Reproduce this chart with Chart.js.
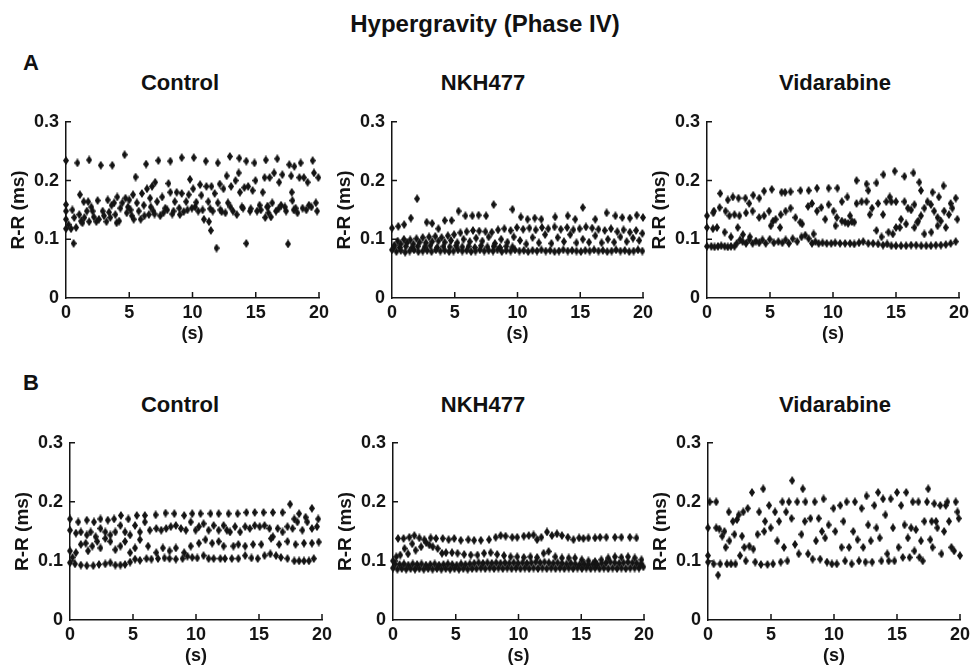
<!DOCTYPE html>
<html>
<head>
<meta charset="utf-8">
<script src="https://cdn.jsdelivr.net/npm/chart.js@4.4.1/dist/chart.umd.min.js"></script>
<style>
  html, body { margin:0; padding:0; background:#fff; }
  body { width:971px; height:669px; position:relative; overflow:hidden; font-family:"Liberation Sans", Arial, sans-serif; }
  .lbl { position:absolute; font-weight:bold; color:#111; white-space:nowrap; transform:translate(-50%,-50%); line-height:1; }
  canvas { position:absolute; }
</style>
</head>
<body>
<script>
// ---------- DATA (time in s, R-R interval) ----------
const xTickLabels = ['0','5','10','15','20'];
const yTickLabels = ['0','0.1','0.2','0.3'];
const panelTitles = ['Control','NKH477','Vidarabine'];

const controlA = [
[0,0.234],[0,0.159],[0,0.148],[0,0.134],[0,0.118],[0.2,0.125],
[0.4,0.118],[0.5,0.15],[0.6,0.093],[0.65,0.137],[0.8,0.12],
[0.9,0.23],[1.05,0.142],[1.1,0.176],[1.2,0.131],[1.3,0.128],[1.4,0.164],[1.45,0.137],[1.65,0.148],[1.75,0.164],[1.83,0.235],[1.83,0.13],
[2.0,0.155],[2.1,0.148],[2.2,0.138],[2.4,0.13],[2.5,0.166],[2.6,0.134],[2.75,0.226],[2.9,0.148],[3.0,0.14],[3.2,0.13],[3.3,0.167],[3.4,0.146],[3.5,0.137],
[3.6,0.158],[3.66,0.226],[3.8,0.162],[3.9,0.142],[4.0,0.128],[4.05,0.172],[4.2,0.131],[4.3,0.153],[4.45,0.162],[4.63,0.244],[4.7,0.17],[4.8,0.145],
[4.9,0.155],[5.0,0.167],[5.1,0.15],[5.2,0.14],[5.3,0.176],[5.35,0.134],[5.5,0.206],[5.6,0.162],[5.75,0.148],[5.9,0.134],[6.0,0.178],[6.15,0.158],
[6.2,0.14],[6.33,0.228],[6.4,0.186],[6.55,0.142],[6.65,0.17],[6.7,0.155],[6.8,0.19],[6.9,0.148],[7.0,0.143],[7.05,0.197],[7.2,0.164],[7.3,0.234],[7.45,0.14],
[7.6,0.172],[7.7,0.145],[7.85,0.153],[8.0,0.15],[8.1,0.195],[8.25,0.233],[8.25,0.18],[8.4,0.143],[8.5,0.148],[8.6,0.164],[8.75,0.18],[8.95,0.153],[9.0,0.142],[9.15,0.239],
[9.15,0.178],[9.3,0.147],[9.5,0.164],[9.6,0.15],[9.7,0.176],[9.8,0.202],[9.95,0.153],[10.05,0.186],[10.1,0.239],[10.2,0.155],[10.3,0.163],[10.45,0.148],
[10.6,0.193],[10.7,0.175],[10.8,0.15],[10.9,0.134],[11.05,0.233],[11.1,0.19],[11.25,0.164],[11.3,0.13],[11.4,0.152],[11.45,0.115],[11.5,0.19],[11.6,0.148],
[11.75,0.178],[11.9,0.085],[12.0,0.23],[12.0,0.162],[12.15,0.194],[12.2,0.15],[12.3,0.147],[12.45,0.186],[12.6,0.145],[12.7,0.208],[12.8,0.162],[12.95,0.241],
[13.0,0.155],[13.05,0.19],[13.2,0.148],[13.4,0.2],[13.5,0.142],[13.65,0.213],[13.7,0.238],[13.75,0.18],[13.9,0.155],[14.0,0.153],[14.1,0.188],[14.25,0.233],
[14.25,0.093],[14.4,0.19],[14.55,0.148],[14.6,0.152],[14.75,0.183],[14.9,0.23],[14.98,0.2],[15.1,0.148],[15.3,0.158],[15.4,0.15],[15.55,0.18],[15.7,0.205],
[15.75,0.137],[15.8,0.235],[15.9,0.155],[15.95,0.156],[16.0,0.145],[16.1,0.205],[16.2,0.138],[16.3,0.162],[16.45,0.213],[16.6,0.148],[16.7,0.237],[16.8,0.152],[16.85,0.197],[17.0,0.158],
[17.1,0.21],[17.3,0.155],[17.4,0.148],[17.55,0.092],[17.65,0.227],[17.8,0.208],[17.85,0.18],[17.9,0.166],[18.0,0.15],[18.05,0.224],[18.15,0.153],[18.3,0.145],[18.45,0.205],
[18.55,0.23],[18.7,0.153],[18.8,0.205],[19.0,0.15],[19.1,0.197],[19.2,0.158],[19.4,0.155],[19.5,0.234],[19.6,0.213],[19.75,0.162],[19.85,0.148],[19.95,0.205]
];

const nkhA = [
[0,0.119],[0.5,0.122],[0.97,0.125],[1.5,0.136],[2.0,0.169],[2.76,0.129],[3.2,0.127],[3.7,0.118],[4.2,0.132],[4.75,0.132],[5.3,0.148],[5.85,0.14],[6.4,0.14],[6.9,0.141],[7.5,0.14],[8.1,0.159],[9.6,0.151],[10.26,0.138],[10.8,0.134],[11.37,0.136],[11.9,0.134],[13.0,0.138],[14.0,0.14],[14.6,0.134],[15.2,0.154],[16.2,0.134],[17.1,0.145],[17.8,0.14],[18.35,0.137],[18.95,0.136],[19.5,0.141],[20,0.137],
[0.2,0.09],[0.45,0.097],[0.7,0.092],[0.95,0.1],[1.2,0.094],[1.45,0.099],[1.7,0.092],[1.95,0.101],[2.2,0.095],[2.45,0.103],[2.7,0.094],[2.95,0.104],[3.2,0.096],[3.45,0.105],[3.7,0.097],[3.95,0.103],[4.2,0.095],[4.45,0.106],[4.7,0.098],[4.95,0.108],[5.2,0.094],[5.45,0.111],[5.7,0.1],[5.95,0.113],[6.2,0.096],[6.45,0.115],[6.7,0.102],[6.95,0.114],[7.2,0.097],[7.45,0.113],[7.7,0.104],[7.95,0.112],[8.2,0.093],[8.45,0.116],[8.7,0.1],[8.95,0.118],[9.2,0.095],[9.45,0.115],[9.7,0.104],[9.95,0.12],[10.2,0.098],[10.45,0.117],[10.7,0.092],[10.95,0.119],[11.2,0.103],[11.45,0.116],[11.7,0.094],[11.95,0.12],[12.2,0.108],[12.45,0.118],[12.7,0.093],[12.95,0.121],[13.2,0.103],[13.45,0.117],[13.7,0.096],[13.95,0.12],[14.2,0.108],[14.45,0.116],[14.7,0.094],[14.95,0.118],[15.2,0.1],[15.45,0.121],[15.7,0.095],[15.95,0.119],[16.2,0.106],[16.45,0.117],[16.7,0.094],[16.95,0.115],[17.2,0.1],[17.45,0.118],[17.7,0.095],[17.95,0.113],[18.2,0.104],[18.45,0.116],[18.7,0.096],[18.95,0.112],[19.2,0.102],[19.45,0.115],[19.7,0.098],[19.95,0.11],
[0.15,0.087],[0.6,0.086],[1.1,0.088],[1.6,0.086],[2.05,0.088],[2.6,0.087],[3.05,0.089],[3.6,0.086],[4.1,0.088],[4.6,0.087],[5.1,0.089],[5.6,0.087],[6.1,0.088],[6.6,0.086],[7.1,0.089],[7.6,0.087],[8.1,0.088],[8.6,0.086],[9.1,0.088],[9.6,0.087],
[0,0.082],[0.35,0.079],[0.7,0.081],[1.05,0.078],[1.4,0.08],[1.75,0.082],[2.1,0.079],[2.45,0.08],[2.8,0.081],[3.15,0.079],[3.5,0.082],[3.85,0.08],[4.2,0.081],[4.55,0.079],[4.9,0.08],[5.25,0.082],[5.6,0.08],[5.95,0.081],[6.3,0.079],[6.65,0.08],[7.0,0.082],[7.35,0.08],[7.7,0.081],[8.05,0.08],[8.4,0.082],[8.75,0.079],[9.1,0.081],[9.45,0.08],[9.8,0.082],[10.15,0.08],[10.5,0.081],[10.85,0.079],[11.2,0.081],[11.55,0.08],[11.9,0.082],[12.25,0.08],[12.6,0.081],[12.95,0.079],[13.3,0.08],[13.65,0.082],[14.0,0.08],[14.35,0.081],[14.7,0.08],[15.05,0.079],[15.4,0.081],[15.75,0.08],[16.1,0.082],[16.45,0.08],[16.8,0.081],[17.15,0.079],[17.5,0.08],[17.85,0.082],[18.2,0.08],[18.55,0.081],[18.9,0.079],[19.25,0.08],[19.6,0.082],[19.95,0.08]
];

const vidA = [
[0.55,0.148],[1.05,0.178],[1.65,0.167],[2.05,0.172],[2.5,0.17],[3.05,0.17],[3.35,0.161],[3.67,0.175],[4.15,0.17],[4.53,0.182],[5.14,0.185],[5.92,0.18],[6.2,0.18],[6.63,0.181],[7.42,0.183],[8.07,0.183],[8.73,0.187],[9.65,0.187],[10.35,0.187],[11.14,0.172],[11.87,0.2],[12.66,0.194],[12.8,0.183],[13.45,0.196],[14.0,0.21],[14.9,0.216],[15.67,0.207],[16.38,0.213],[16.85,0.197],[16.98,0.183],[17.9,0.18],[18.4,0.172],[18.77,0.191],[19.34,0.161],[19.74,0.17],
[0,0.14],[0.5,0.145],[1.0,0.154],[1.47,0.148],[1.78,0.14],[2.18,0.142],[2.57,0.14],[3.1,0.145],[3.62,0.148],[4.14,0.137],[4.53,0.14],[4.93,0.148],[5.24,0.131],[5.45,0.134],[5.85,0.142],[6.24,0.148],[6.63,0.153],[7.02,0.137],[7.55,0.126],[8.02,0.156],[8.33,0.161],[8.73,0.148],[9.07,0.154],[9.38,0.134],[9.65,0.159],[10.04,0.148],[10.3,0.137],[10.7,0.164],[10.96,0.129],[11.35,0.14],[11.69,0.129],[11.87,0.161],[12.27,0.164],[12.66,0.164],[12.92,0.142],[13.1,0.153],[13.58,0.161],[13.97,0.142],[14.23,0.164],[14.5,0.172],[14.63,0.164],[15.0,0.164],[15.0,0.12],[15.4,0.134],[15.67,0.164],[15.94,0.153],[16.2,0.15],[16.46,0.159],[16.77,0.131],[16.98,0.14],[17.25,0.153],[17.5,0.164],[17.77,0.159],[18.03,0.148],[18.3,0.137],[18.56,0.131],[18.82,0.148],[19.2,0.142],[19.47,0.153],[19.87,0.134],
[0,0.12],[0.47,0.118],[0.79,0.12],[1.4,0.112],[1.9,0.104],[2.44,0.12],[2.85,0.108],[3.4,0.104],[5.06,0.123],[5.8,0.12],[7.4,0.129],[8.46,0.109],[10.2,0.123],[10.7,0.131],[11.2,0.127],[11.5,0.13],[13.45,0.115],[13.85,0.104],[14.4,0.112],[14.75,0.109],[15.3,0.12],[15.8,0.126],[16.46,0.12],[16.7,0.129],[17.25,0.109],[17.8,0.112],[18.3,0.123],[18.95,0.12],
[0,0.088],[0.34,0.088],[0.6,0.087],[0.87,0.088],[1.13,0.089],[1.4,0.088],[1.65,0.087],[1.9,0.088],[2.18,0.088],[2.36,0.093],[2.62,0.099],[2.83,0.096],[3.1,0.093],[3.35,0.099],[3.62,0.093],[3.88,0.097],[4.14,0.094],[4.4,0.099],[4.66,0.093],[4.98,0.1],[5.3,0.094],[5.66,0.096],[5.98,0.094],[6.24,0.099],[6.5,0.093],[6.8,0.101],[7.16,0.096],[7.5,0.104],[7.8,0.107],[8.07,0.101],[8.33,0.093],[8.6,0.096],[8.86,0.093],[9.17,0.094],[9.5,0.093],[9.86,0.093],[10.17,0.094],[10.56,0.093],[10.96,0.093],[11.35,0.093],[11.69,0.092],[12.06,0.094],[12.4,0.096],[12.8,0.093],[13.18,0.093],[13.58,0.092],[13.97,0.09],[14.3,0.092],[14.63,0.089],[15.0,0.089],[15.4,0.089],[15.8,0.089],[16.2,0.09],[16.6,0.09],[17.0,0.089],[17.4,0.089],[17.77,0.089],[18.16,0.09],[18.56,0.09],[18.95,0.091],[19.34,0.093],[19.74,0.096]
];

const controlB = [
[0,0.171],[0.65,0.166],[1.33,0.169],[1.9,0.166],[2.42,0.171],[3.0,0.169],[3.5,0.171],[4.04,0.177],[4.63,0.171],[5.3,0.177],[5.94,0.177],[6.8,0.178],[7.58,0.181],[8.28,0.18],[9.06,0.177],[9.7,0.18],[10.36,0.18],[11.15,0.18],[11.8,0.18],[12.58,0.18],[13.3,0.18],[14.0,0.182],[14.66,0.182],[15.36,0.182],[16.1,0.182],[16.87,0.182],[17.47,0.196],[17.8,0.171],[18.18,0.18],[18.7,0.174],[19.2,0.189],[19.7,0.171],
[0,0.152],[0.47,0.147],[0.86,0.149],[1.33,0.144],[1.64,0.149],[2.03,0.141],[2.42,0.155],[2.8,0.149],[3.2,0.144],[3.6,0.149],[4.0,0.16],[4.37,0.149],[4.77,0.144],[5.16,0.16],[5.55,0.149],[5.94,0.166],[6.33,0.152],[6.85,0.155],[7.24,0.152],[7.63,0.155],[8.0,0.158],[8.4,0.16],[8.8,0.155],[9.2,0.152],[9.58,0.166],[9.97,0.152],[10.23,0.158],[10.6,0.163],[11.0,0.152],[11.4,0.16],[11.8,0.152],[12.19,0.16],[12.45,0.152],[12.7,0.149],[13.1,0.158],[13.5,0.149],[13.9,0.158],[14.27,0.155],[14.66,0.16],[15.05,0.158],[15.44,0.16],[15.83,0.155],[16.1,0.141],[16.48,0.155],[16.87,0.149],[17.26,0.158],[17.66,0.155],[18.05,0.166],[18.44,0.152],[18.83,0.166],[19.2,0.155],[19.6,0.158],
[0,0.117],[0.2,0.106],[0.47,0.114],[0.86,0.128],[1.25,0.13],[1.43,0.117],[1.77,0.125],[2.16,0.133],[2.42,0.122],[2.8,0.138],[3.2,0.133],[3.6,0.119],[4.0,0.125],[4.37,0.133],[4.77,0.114],[5.16,0.122],[5.55,0.136],[6.2,0.125],[6.85,0.114],[7.37,0.122],[7.9,0.117],[8.4,0.122],[9.06,0.114],[9.58,0.125],[10.23,0.13],[10.75,0.136],[11.28,0.13],[11.8,0.133],[12.19,0.125],[12.97,0.125],[13.36,0.128],[13.9,0.125],[14.53,0.128],[15.18,0.128],[15.96,0.138],[16.6,0.128],[17.26,0.133],[17.9,0.128],[18.57,0.13],[19.2,0.13],[19.74,0.132],
[0,0.097],[0.4,0.095],[0.86,0.093],[1.33,0.092],[1.85,0.092],[2.3,0.094],[2.8,0.095],[3.2,0.097],[3.6,0.093],[4.0,0.093],[4.37,0.094],[4.77,0.098],[5.16,0.103],[5.55,0.101],[6.07,0.104],[6.46,0.103],[6.98,0.104],[7.5,0.105],[7.9,0.104],[8.4,0.103],[8.93,0.104],[9.32,0.108],[9.7,0.106],[10.1,0.105],[10.6,0.109],[11.0,0.104],[11.4,0.104],[11.93,0.104],[12.3,0.104],[12.84,0.104],[13.36,0.104],[13.9,0.109],[14.4,0.105],[14.9,0.104],[15.44,0.109],[15.9,0.112],[16.35,0.109],[16.74,0.106],[17.26,0.104],[17.8,0.1],[18.18,0.1],[18.57,0.1],[18.96,0.1],[19.35,0.104]
];

const nkhB = [
[0.4,0.138],[0.84,0.138],[1.3,0.14],[1.7,0.143],[2.1,0.139],[2.5,0.136],[3.0,0.139],[3.43,0.138],[3.96,0.138],[4.43,0.136],[4.88,0.138],[5.4,0.135],[6.0,0.136],[6.46,0.135],[7.0,0.135],[7.65,0.136],[8.18,0.14],[8.58,0.143],[8.97,0.142],[9.5,0.14],[9.9,0.14],[10.42,0.142],[10.82,0.143],[11.2,0.144],[11.48,0.136],[11.82,0.14],[12.27,0.149],[12.66,0.143],[13.06,0.146],[13.46,0.143],[13.93,0.14],[14.38,0.136],[14.83,0.139],[15.17,0.138],[15.57,0.139],[16.1,0.139],[16.5,0.14],[17.0,0.14],[17.68,0.14],[18.2,0.14],[18.87,0.14],[19.4,0.139],
[0,0.1],[0.26,0.107],[0.58,0.11],[0.92,0.121],[1.2,0.112],[1.53,0.129],[1.8,0.118],[2.24,0.124],[2.64,0.131],[2.9,0.127],[3.17,0.124],[3.56,0.121],[3.9,0.113],[4.22,0.114],[4.7,0.114],[5.14,0.113],[5.67,0.111],[6.2,0.11],[6.73,0.11],[7.26,0.113],[7.78,0.114],[8.3,0.111],[8.84,0.109],[9.37,0.107],[9.9,0.107],[10.42,0.106],[10.95,0.107],[11.48,0.106],[12.0,0.113],[12.4,0.116],[12.93,0.107],[13.46,0.105],[14.0,0.105],[14.5,0.105],[15.04,0.102],[15.57,0.1],[16.1,0.099],[16.6,0.102],[17.15,0.105],[17.68,0.107],[18.2,0.106],[18.73,0.107],[19.26,0.105],[19.8,0.102],
[0,0.088],[0.17,0.095],[0.35,0.086],[0.52,0.094],[0.7,0.087],[0.87,0.095],[1.05,0.086],[1.22,0.093],[1.4,0.087],[1.57,0.095],[1.75,0.086],[1.92,0.094],[2.1,0.087],[2.27,0.095],[2.45,0.086],[2.62,0.093],[2.8,0.087],[2.97,0.094],[3.15,0.086],[3.32,0.095],[3.5,0.087],[3.67,0.093],[3.85,0.086],[4.02,0.094],[4.2,0.087],[4.37,0.095],[4.55,0.086],[4.72,0.094],[4.9,0.087],[5.07,0.093],[5.25,0.086],[5.42,0.095],[5.6,0.087],[5.77,0.094],[5.95,0.086],[6.12,0.095],[6.3,0.087],[6.47,0.096],[6.65,0.087],[6.82,0.097],[7.0,0.088],[7.17,0.096],[7.35,0.087],[7.52,0.097],[7.7,0.088],[7.87,0.096],[8.05,0.087],[8.22,0.097],[8.4,0.088],[8.57,0.096],[8.75,0.087],[8.92,0.097],[9.1,0.088],[9.27,0.096],[9.45,0.087],[9.62,0.097],[9.8,0.088],[9.97,0.096],[10.15,0.087],[10.32,0.097],[10.5,0.088],[10.67,0.096],[10.85,0.087],[11.02,0.097],[11.2,0.088],[11.37,0.098],[11.55,0.087],[11.72,0.097],[11.9,0.088],[12.07,0.098],[12.25,0.087],[12.42,0.097],[12.6,0.088],[12.77,0.096],[12.95,0.087],[13.12,0.097],[13.3,0.088],[13.47,0.096],[13.65,0.087],[13.82,0.095],[14.0,0.088],[14.17,0.096],[14.35,0.087],[14.52,0.095],[14.7,0.088],[14.87,0.094],[15.05,0.087],[15.22,0.095],[15.4,0.088],[15.57,0.094],[15.75,0.087],[15.92,0.095],[16.1,0.088],[16.27,0.094],[16.45,0.087],[16.62,0.096],[16.8,0.088],[16.97,0.097],[17.15,0.087],[17.32,0.098],[17.5,0.088],[17.67,0.097],[17.85,0.087],[18.02,0.096],[18.2,0.088],[18.37,0.097],[18.55,0.087],[18.72,0.098],[18.9,0.088],[19.07,0.097],[19.25,0.088],[19.42,0.096],[19.6,0.088],[19.77,0.095],[19.95,0.09]
];

const vidB = [
[0,0.156],[0,0.109],[0,0.098],[0.13,0.2],[0.45,0.095],[0.65,0.2],[0.65,0.156],[0.8,0.076],[0.9,0.154],[0.97,0.095],[1.13,0.142],[1.3,0.15],[1.4,0.123],[1.5,0.095],[1.65,0.183],[1.7,0.134],[1.83,0.095],[1.97,0.167],[2.1,0.145],[2.18,0.095],[2.3,0.17],[2.44,0.178],[2.54,0.109],[2.7,0.142],[2.8,0.183],[2.88,0.123],[3.0,0.1],[3.15,0.189],[3.28,0.125],[3.49,0.216],[3.6,0.12],[3.75,0.098],[3.93,0.145],[4.06,0.183],[4.2,0.094],[4.38,0.222],[4.46,0.15],[4.53,0.167],[4.72,0.094],[4.85,0.194],[4.98,0.156],[5.16,0.095],[5.32,0.183],[5.5,0.134],[5.64,0.167],[5.77,0.098],[5.9,0.2],[6.03,0.123],[6.2,0.183],[6.3,0.1],[6.42,0.2],[6.63,0.172],[6.68,0.236],[6.9,0.128],[7.08,0.2],[7.2,0.112],[7.42,0.145],[7.52,0.222],[7.68,0.167],[7.73,0.2],[7.94,0.112],[8.13,0.172],[8.3,0.103],[8.47,0.2],[8.57,0.134],[8.78,0.172],[8.9,0.103],[9.04,0.15],[9.17,0.205],[9.3,0.139],[9.44,0.098],[9.57,0.161],[9.83,0.095],[9.96,0.189],[10.1,0.15],[10.22,0.095],[10.5,0.194],[10.6,0.123],[10.75,0.167],[10.88,0.1],[11.0,0.2],[11.2,0.123],[11.4,0.095],[11.53,0.15],[11.66,0.2],[11.87,0.136],[11.98,0.1],[12.19,0.189],[12.32,0.123],[12.5,0.098],[12.58,0.21],[12.71,0.161],[12.92,0.134],[13.03,0.098],[13.2,0.194],[13.37,0.156],[13.5,0.216],[13.63,0.139],[13.76,0.1],[13.89,0.205],[14.08,0.178],[14.23,0.112],[14.34,0.1],[14.5,0.205],[14.68,0.156],[14.8,0.1],[15.0,0.216],[15.12,0.123],[15.33,0.194],[15.46,0.106],[15.6,0.161],[15.73,0.216],[15.86,0.139],[16.0,0.106],[16.12,0.156],[16.25,0.2],[16.38,0.117],[16.5,0.153],[16.7,0.2],[16.78,0.106],[16.9,0.134],[17.04,0.1],[17.17,0.167],[17.38,0.2],[17.48,0.222],[17.64,0.136],[17.75,0.167],[17.82,0.123],[17.96,0.197],[18.1,0.167],[18.2,0.156],[18.43,0.194],[18.53,0.112],[18.74,0.15],[18.87,0.194],[19.0,0.2],[19.13,0.167],[19.32,0.123],[19.53,0.117],[19.66,0.2],[19.8,0.183],[19.9,0.172],[20.0,0.109]
];

// ---------- LAYOUT ----------
const FONT = '"Liberation Sans", Arial, Helvetica, sans-serif';
const INK = '#141414';

function addLabel(text, cx, cy, size) {
  const d = document.createElement('div');
  d.className = 'lbl';
  d.textContent = text;
  d.style.left = cx + 'px';
  d.style.top = cy + 'px';
  d.style.fontSize = size + 'px';
  document.body.appendChild(d);
}

addLabel('Hypergravity (Phase IV)', 485, 24, 24);
addLabel('A', 31, 63, 22);
addLabel('B', 31, 383, 22);
const titleX = [180, 483, 835];
titleX.forEach((x, i) => { addLabel(panelTitles[i], x, 83, 22); addLabel(panelTitles[i], x, 405, 22); });

function diamond(w, h, color) {
  const c = document.createElement('canvas');
  c.width = w; c.height = h;
  const g = c.getContext('2d');
  g.fillStyle = color;
  g.beginPath();
  g.moveTo(w / 2, 0); g.lineTo(w, h / 2); g.lineTo(w / 2, h); g.lineTo(0, h / 2);
  g.closePath(); g.fill();
  return c;
}
const marker = diamond(6, 9, INK);

const inwardTicks = {
  id: 'inwardTicks',
  afterDraw(chart) {
    const { ctx, chartArea: a, scales: { x, y } } = chart;
    ctx.save();
    ctx.strokeStyle = INK; ctx.lineWidth = 1.5;
    ctx.beginPath();
    x.ticks.forEach(t => {
      if (t.value === 0) return;
      const px = x.getPixelForValue(t.value);
      ctx.moveTo(px, a.bottom); ctx.lineTo(px, a.bottom - 6);
    });
    y.ticks.forEach(t => {
      if (t.value === 0) return;
      const py = y.getPixelForValue(t.value);
      ctx.moveTo(a.left, py); ctx.lineTo(a.left + 5, py);
    });
    ctx.stroke();
    ctx.restore();
  }
};

const YW = 62, XH = 50, PT = 12, PR = 16;
const panels = [
  { data: controlA, L: 66,  R: 319, T: 116, B: 298 },
  { data: nkhA,     L: 392, R: 643, T: 116, B: 298 },
  { data: vidA,     L: 707, R: 959, T: 116, B: 298 },
  { data: controlB, L: 70,  R: 322, T: 437, B: 620 },
  { data: nkhB,     L: 393, R: 644, T: 437, B: 620 },
  { data: vidB,     L: 708, R: 960, T: 437, B: 620 }
];

panels.forEach(p => {
  const cv = document.createElement('canvas');
  const w = p.R - p.L + YW + PR, h = p.B - p.T + PT + XH;
  cv.width = w; cv.height = h;
  cv.style.left = (p.L - YW) + 'px';
  cv.style.top = (p.T - PT) + 'px';
  cv.style.width = w + 'px'; cv.style.height = h + 'px';
  document.body.appendChild(cv);
  const tickFont = { family: FONT, size: 18, weight: 'bold' };
  new Chart(cv, {
    type: 'scatter',
    data: { datasets: [{
      data: p.data.map(d => ({ x: d[0], y: d[1] })),
      pointStyle: marker, pointRadius: 4, backgroundColor: INK, borderWidth: 0, clip: false
    }] },
    options: {
      responsive: false, animation: false, devicePixelRatio: 1,
      layout: { padding: { top: PT, right: PR, left: 0, bottom: 0 } },
      plugins: { legend: { display: false }, tooltip: { enabled: false }, title: { display: false } },
      scales: {
        x: {
          type: 'linear', min: 0, max: 20,
          ticks: { stepSize: 5, font: tickFont, color: INK, padding: 4, maxRotation: 0, autoSkip: false,
                   callback: v => xTickLabels[Math.round(v / 5)] },
          grid: { display: false, drawTicks: false },
          border: { display: true, color: INK, width: 1.5 },
          title: { display: true, text: '(s)', font: { family: FONT, size: 18, weight: 'bold' }, color: INK, padding: { top: 0, bottom: 3 } },
          afterFit(s) { s.height = XH; }
        },
        y: {
          type: 'linear', min: 0, max: 0.3,
          ticks: { stepSize: 0.1, font: tickFont, color: INK, padding: 7, autoSkip: false,
                   callback: v => yTickLabels[Math.round(v * 10)] },
          grid: { display: false, drawTicks: false },
          border: { display: true, color: INK, width: 1.5 },
          title: { display: true, text: 'R-R (ms)', font: { family: FONT, size: 19, weight: 'bold' }, color: INK, padding: { top: 3, bottom: 0 } },
          afterFit(s) { s.width = YW; }
        }
      }
    },
    plugins: [inwardTicks]
  });
});
</script>
</body>
</html>
